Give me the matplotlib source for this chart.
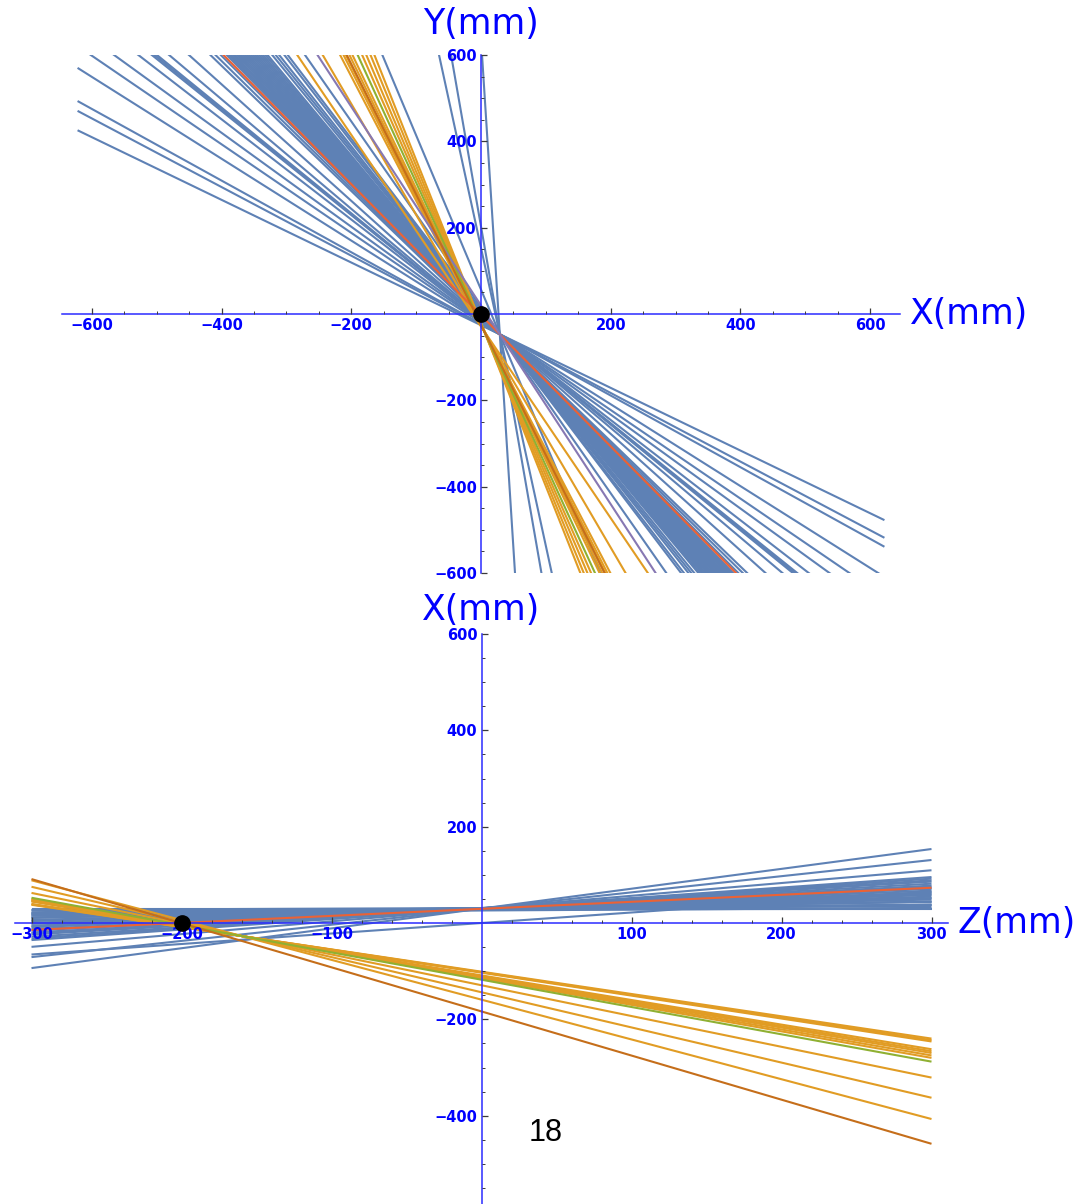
import numpy as np
import matplotlib
matplotlib.use('Agg')
import matplotlib.pyplot as plt
from matplotlib.ticker import FixedLocator

# Mathematica-style palette
BLUE = '#5E81B5'
ORANGE = '#E19C24'
GREEN = '#8FB032'
RED = '#EB6235'
PURPLE = '#8778B3'
DKORANGE = '#C56E1A'
AXIS = '#2b2bff'
TXT = '#0000ff'

# ---------------- X-Y view: slopes dY/dX, tracks through a common vertex
xy_vtx_a = (29, -47)
xy_blue = [-0.726, -0.795, -0.830, -0.948, -1.026, -1.088, -1.161, -1.206,
           -1.215, -1.224, -1.269, -1.350, -1.450, -1.476, -1.504,
           -1.537, -1.549, -1.560, -1.572, -1.583, -1.596, -1.608, -1.620,
           -1.633, -1.646, -1.659, -1.672, -1.686, -1.700, -1.714, -1.728,
           -1.743, -1.758, -1.773, -1.790, -1.807,
           -1.844, -1.873, -1.902, -1.948, -1.979, -2.154, -3.573, -6.905,
           -8.615, -23.61]
xy_red = [-1.519]
xy_purple = [-2.302]

xy_vtx_b = (5, -40)
xy_orange = [-2.22, -2.57, -2.88, -2.95, -3.00, -3.08, -3.15, -3.40, -3.52,
             -3.65, -3.78]
xy_green = [-3.28]
xy_dkorange = [-3.02]

# ---------------- Z-X view: slopes dX/dZ and X at Z = 0
zx_blue_k = [0.000, 0.005, 0.012, 0.018, 0.025, 0.031, 0.036, 0.042, 0.048,
             0.055, 0.062, 0.068, 0.075, 0.082, 0.090, 0.098, 0.106, 0.115,
             0.124, 0.133, 0.142, 0.152, 0.162, 0.172, 0.183, 0.195, 0.207,
             0.218, 0.265, 0.336, 0.412, 0.218]
zx_blue_x0 = [30, 28, 31, 26, 30, 29, 27, 31, 30, 28, 30, 31, 29, 30, 31, 30,
              30, 29, 30, 31, 30, 30, 29, 30, 31, 30, 30, 30, 30, 30, 30, 0]
zx_red_k, zx_red_x0 = [0.146], [29.4]

zx_vtx_b = (-160, -27)
zx_orange = [-0.463, -0.470, -0.476, -0.511, -0.520, -0.528, -0.539, -0.550,
             -0.639, -0.730, -0.826]
zx_green = [-0.567]
zx_dk_k, zx_dk_x0 = [-0.916], [-183.6]

LW = 1.5


def draw_fan(ax, vtx, slopes, color, span):
    x = np.array(span, dtype=float)
    for k in slopes:
        ax.plot(x, vtx[1] + k * (x - vtx[0]), color=color, lw=LW,
                solid_capstyle='butt', zorder=2)


def draw_lines(ax, slopes, x0s, color, span):
    x = np.array(span, dtype=float)
    for k, b in zip(slopes, x0s):
        ax.plot(x, b + k * x, color=color, lw=LW, solid_capstyle='butt',
                zorder=2)


def style_axes(ax, xmaj, xmin, ymaj, ymin):
    for s in ('top', 'right'):
        ax.spines[s].set_visible(False)
    for s in ('left', 'bottom'):
        ax.spines[s].set_position(('data', 0))
        ax.spines[s].set_color(AXIS)
        ax.spines[s].set_linewidth(1.1)
        ax.spines[s].set_zorder(3)
    ax.xaxis.set_zorder(4)
    ax.yaxis.set_zorder(4)
    ax.set_xticks(xmaj)
    ax.set_yticks(ymaj)
    ax.xaxis.set_minor_locator(FixedLocator(xmin))
    ax.yaxis.set_minor_locator(FixedLocator(ymin))
    ax.tick_params(which='both', direction='in', color='#3a3a3a',
                   labelcolor=TXT, labelsize=10.5, pad=3)
    ax.tick_params(which='major', length=4.5, width=0.9)
    ax.tick_params(which='minor', length=2.5, width=0.7)
    plt.setp(ax.get_xticklabels() + ax.get_yticklabels(), fontweight='bold')
    ax.set_facecolor('none')


fig = plt.figure(figsize=(10.82, 12.04), dpi=100)

# ---- top panel: X-Y
ax1 = fig.add_axes([62 / 1082, 1 - 573 / 1204, 838 / 1082, 518 / 1204])
span_xy = (-622, 622)
draw_fan(ax1, xy_vtx_a, xy_blue, BLUE, span_xy)
draw_fan(ax1, xy_vtx_b, xy_orange, ORANGE, span_xy)
draw_fan(ax1, xy_vtx_b, xy_green, GREEN, span_xy)
draw_fan(ax1, xy_vtx_a, xy_red, RED, span_xy)
draw_fan(ax1, xy_vtx_a, xy_purple, PURPLE, span_xy)
draw_fan(ax1, xy_vtx_b, xy_dkorange, DKORANGE, span_xy)
ax1.plot([0], [0], 'o', color='black', ms=11, zorder=5)
ax1.set_xlim(-646, 646)
ax1.set_ylim(-600, 600)
maj = [-600, -400, -200, 200, 400, 600]
mnr = [v for v in range(-600, 601, 50) if v % 200]
style_axes(ax1, maj, mnr, maj, mnr)
ax1.annotate('Y(mm)', xy=(0, 1), xycoords=('data', 'axes fraction'),
             xytext=(0, 10), textcoords='offset points', ha='center',
             va='bottom', color=TXT, fontsize=25)
ax1.annotate('X(mm)', xy=(1, 0), xycoords=('axes fraction', 'data'),
             xytext=(7, 0), textcoords='offset points', ha='left',
             va='center', color=TXT, fontsize=25)

# ---- bottom panel: Z-X
ax2 = fig.add_axes([15 / 1082, 1 - 1212 / 1204, 933 / 1082, 578 / 1204])
span_zx = (-300, 300)
draw_lines(ax2, zx_blue_k, zx_blue_x0, BLUE, span_zx)
draw_fan(ax2, zx_vtx_b, zx_orange, ORANGE, span_zx)
draw_fan(ax2, zx_vtx_b, zx_green, GREEN, span_zx)
draw_lines(ax2, zx_red_k, zx_red_x0, RED, span_zx)
draw_lines(ax2, zx_dk_k, zx_dk_x0, DKORANGE, span_zx)
ax2.plot([-200], [0], 'o', color='black', ms=11, zorder=5)
ax2.set_xlim(-311, 311)
ax2.set_ylim(-600, 600)
zmaj = [-300, -200, -100, 100, 200, 300]
zmin = [v for v in range(-300, 301, 20) if v % 100]
xmaj = [-400, -200, 200, 400, 600]
xmin = [v for v in range(-600, 601, 50) if v % 200]
style_axes(ax2, zmaj, zmin, xmaj, xmin)
ax2.annotate('X(mm)', xy=(0, 1), xycoords=('data', 'axes fraction'),
             xytext=(0, 5), textcoords='offset points', ha='center',
             va='bottom', color=TXT, fontsize=25)
ax2.annotate('Z(mm)', xy=(1, 0), xycoords=('axes fraction', 'data'),
             xytext=(7, 0), textcoords='offset points', ha='left',
             va='center', color=TXT, fontsize=25)
ax2.text(43, -436, '18', ha='center', va='center', fontsize=22,
         family='Liberation Sans', color='black')

fig.savefig('out.png', dpi=100, facecolor='white')
